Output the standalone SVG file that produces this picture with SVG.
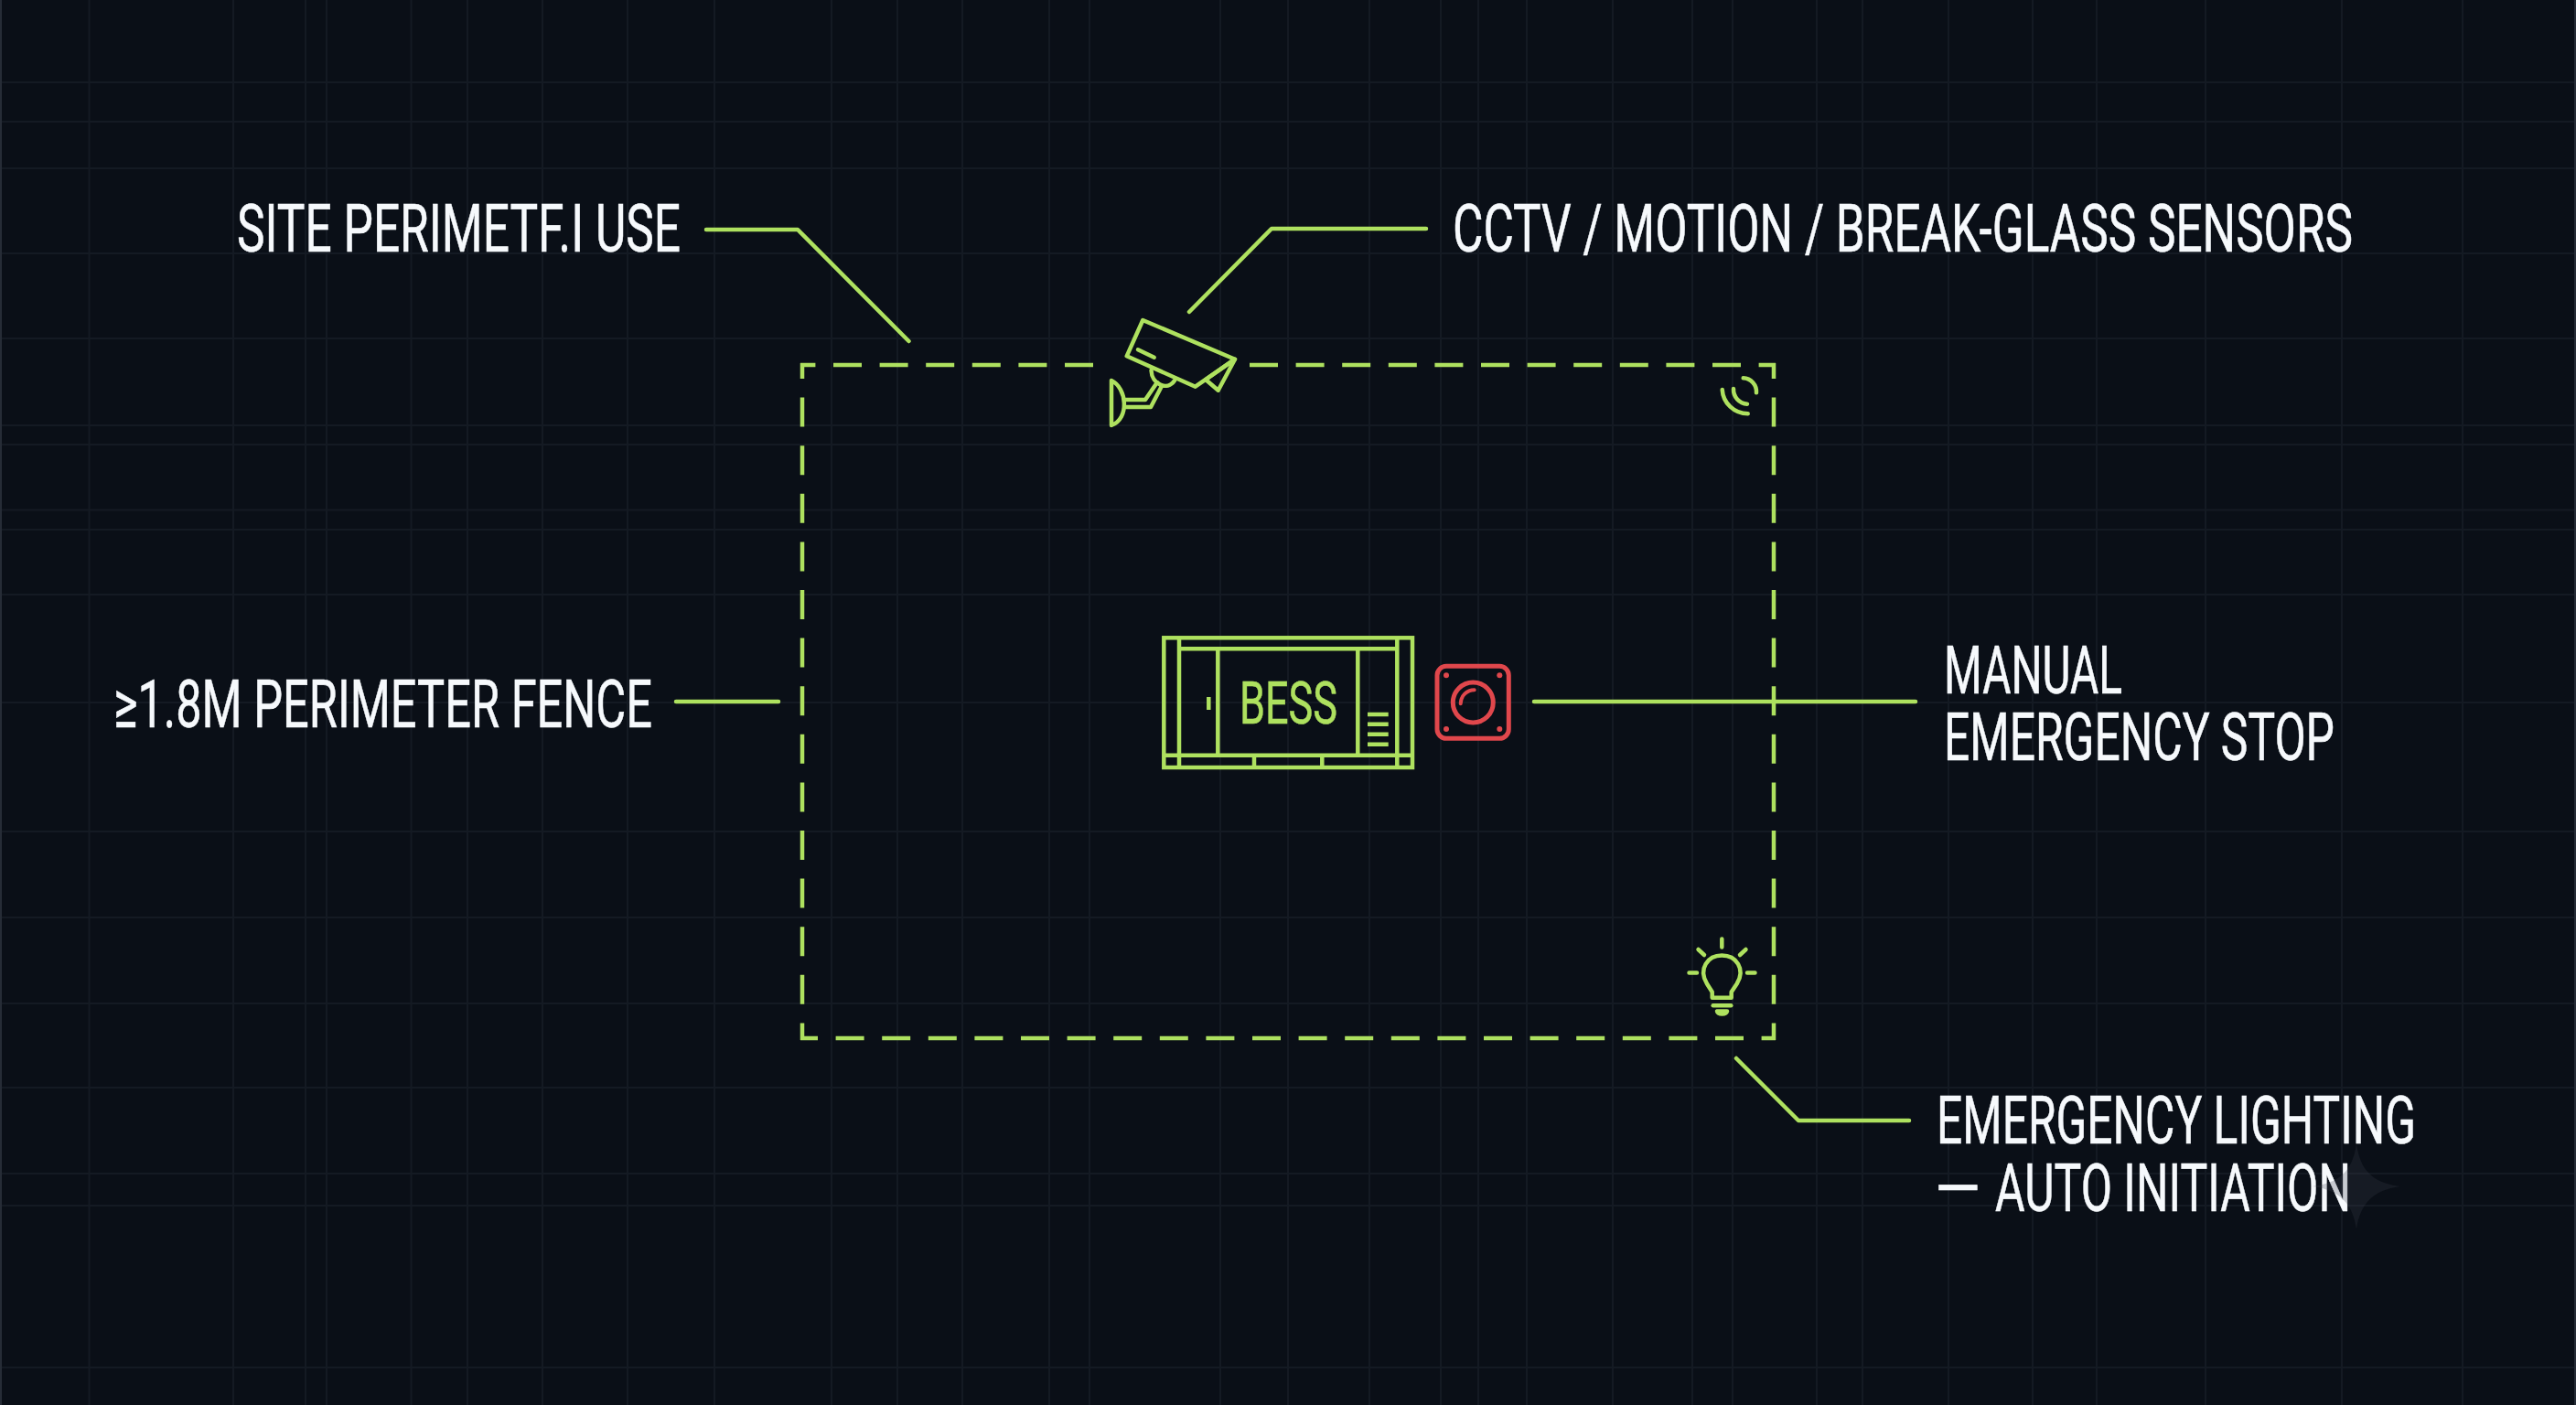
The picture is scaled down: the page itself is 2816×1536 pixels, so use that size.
<svg xmlns="http://www.w3.org/2000/svg" width="2816" height="1536" viewBox="0 0 2816 1536">
<style>
.grid path{fill:none;stroke:#141a23;stroke-width:2}
.g{fill:none;stroke:#aee15f;stroke-width:4.5;stroke-linecap:round;stroke-linejoin:round}
.r{fill:none;stroke:#e0474c;stroke-width:5;stroke-linejoin:round;stroke-linecap:round}
.fence{fill:none;stroke:#aee15f;stroke-width:4.5;stroke-linecap:butt}
.l{font-family:"Roboto","Liberation Sans",sans-serif;font-size:73px;font-weight:400;fill:#f6f9fc;stroke:#f6f9fc;stroke-width:.6}
</style>
<rect width="2816" height="1536" fill="#0a0f17"/>
<g class="grid" id="grid">
<path d="M97.5 0V1536M255 0V1536M334 0V1536M357 0V1536M449.5 0V1536M511 0V1536M593 0V1536M686 0V1536M781 0V1536M909 0V1536M981 0V1536M1052 0V1536M1147 0V1536M1191 0V1536M1334 0V1536M1408 0V1536M1497 0V1536M1575 0V1536M1616 0V1536M1669 0V1536M1763 0V1536M1850 0V1536M1894 0V1536M1986 0V1536M2036 0V1536M2130 0V1536M2222 0V1536M2292 0V1536M2411 0V1536M2560 0V1536M2692 0V1536"/>
<path d="M0 90H2816M0 133H2816M0 184H2816M0 277H2816M0 370H2816M0 465H2816M0 486H2816M0 557.5H2816M0 579H2816M0 650H2816M0 768H2816M0 909H2816M0 1003H2816M0 1097H2816M0 1189H2816M0 1283H2816M0 1318H2816M0 1495H2816"/>
<path d="M1 0V1536M2815 0V1536" style="stroke:#262c36"/>
</g>
<g id="fence">
<line class="fence" x1="875" y1="399" x2="1196" y2="399" stroke-dasharray="31 19.6" stroke-dashoffset="14.6"/>
<line class="fence" x1="1366" y1="399" x2="1941" y2="399" stroke-dasharray="31 19.6"/>
<line class="fence" x1="877" y1="397" x2="877" y2="1137" stroke-dasharray="32 20.6" stroke-dashoffset="15"/>
<line class="fence" x1="1939" y1="397" x2="1939" y2="1137" stroke-dasharray="32 20.6" stroke-dashoffset="15"/>
<line class="fence" x1="875" y1="1135" x2="1941" y2="1135" stroke-dasharray="31 19.6" stroke-dashoffset="12"/>
</g>
<g id="connectors">
<path class="g" d="M772 251H872L993.5 373"/>
<path class="g" d="M1300 341L1390 250H1559"/>
<path class="g" d="M739 767H851"/>
<path class="g" d="M1677 767H2094"/>
<path class="g" d="M1898 1157L1966 1225H2087"/>
</g>
<g id="cctv" class="g">
<path d="M1249.3 350L1350 392.7L1306.7 422.7L1231.7 389.3Z"/>
<path d="M1318 415L1331.7 426.7L1350 392.7Z"/>
<path d="M1244 382.3L1261.7 390.7"/>
<path d="M1258.5 405C1259 420 1276 428 1284 416"/>
<path d="M1230 437H1252L1265 418M1230 445H1258L1270 422"/>
<path d="M1215 416V465C1235 458 1232 424 1215 416Z"/>
</g>
<g id="sensor" class="g">
<path d="M1882.7 426A28 28 0 0 0 1910.7 452.3"/>
<path d="M1895 425A16 16 0 0 0 1910 441.7"/>
<path d="M1905.7 413.3A15 15 0 0 1 1920 429.3"/>
</g>
<g id="bess">
<g class="g">
<rect x="1272.3" y="697.3" width="271.7" height="141.7" stroke-linejoin="miter"/>
<path d="M1289 697.3V839M1527.3 697.3V839M1289 709.3H1527.3M1272.3 825.7H1544M1331.3 709.3V825.7M1484.3 709.3V825.7M1371 825.7V839M1445.3 825.7V839" stroke-linecap="butt"/>
<path d="M1321.3 762V776" stroke-linecap="butt"/>
<path d="M1495 781H1517.7M1495 791.7H1517.7M1495 802.7H1517.7M1495 813.7H1517.7" stroke-linecap="butt"/>
</g>
<text x="1355" y="791" font-family="Roboto,'Liberation Sans',sans-serif" font-size="64" fill="#aee15f" stroke="#aee15f" stroke-width=".5" textLength="107" lengthAdjust="spacingAndGlyphs">BESS</text>
</g>
<g id="estop">
<rect class="r" x="1571" y="728.3" width="78.3" height="79" rx="10"/>
<circle class="r" cx="1610.3" cy="768" r="22"/>
<path class="r" d="M1596.7 769.3A15 15 0 0 1 1611.7 754.3" style="stroke-width:4;stroke-linecap:round"/>
<g fill="#e0474c"><circle cx="1581" cy="738.3" r="3"/><circle cx="1639.3" cy="738.3" r="3"/><circle cx="1581" cy="797" r="3"/><circle cx="1639.3" cy="797" r="3"/></g>
</g>
<g id="bulb" class="g">
<path d="M1871.7 1090.7V1084.5L1866 1075.5C1856 1059 1867 1044.5 1882.3 1044.5C1897.7 1044.5 1908.7 1059 1898.7 1075.5L1892.7 1084.5V1090.7Z"/>
<path d="M1872.7 1099.3H1892.3"/>
<path d="M1877 1105.5H1888C1887 1109.5 1878 1109.5 1877 1105.5Z"/>
<path d="M1882.3 1026.5V1035.5M1856.5 1038L1863 1044M1908.5 1038L1902 1044M1846.5 1063.5H1855M1910 1063.5H1918.5"/>
</g>
<g id="labels">
<text class="l" x="259" y="275" textLength="485" lengthAdjust="spacingAndGlyphs">SITE PERIMETF.I USE</text>
<text class="l" x="1588" y="275" textLength="984" lengthAdjust="spacingAndGlyphs">CCTV / MOTION / BREAK-GLASS SENSORS</text>
<text class="l" x="124" y="795" textLength="589" lengthAdjust="spacingAndGlyphs">≥1.8M PERIMETER FENCE</text>
<text class="l" x="2125" y="758" textLength="195" lengthAdjust="spacingAndGlyphs">MANUAL</text>
<text class="l" x="2125" y="831" textLength="427" lengthAdjust="spacingAndGlyphs">EMERGENCY STOP</text>
<text class="l" x="2117" y="1250" textLength="524" lengthAdjust="spacingAndGlyphs">EMERGENCY LIGHTING</text>
<text class="l" y="1324"><tspan x="2115" textLength="50" lengthAdjust="spacingAndGlyphs">—</tspan><tspan x="2181" textLength="389" lengthAdjust="spacingAndGlyphs">AUTO INITIATION</tspan></text>
</g>
<path id="sparkle" d="M2576 1250C2580 1280 2594 1293 2624 1297C2594 1301 2580 1316 2576 1344C2572 1316 2558 1301 2528 1297C2558 1293 2572 1280 2576 1250Z" fill="#3a404a" fill-opacity=".25"/>
</svg>
